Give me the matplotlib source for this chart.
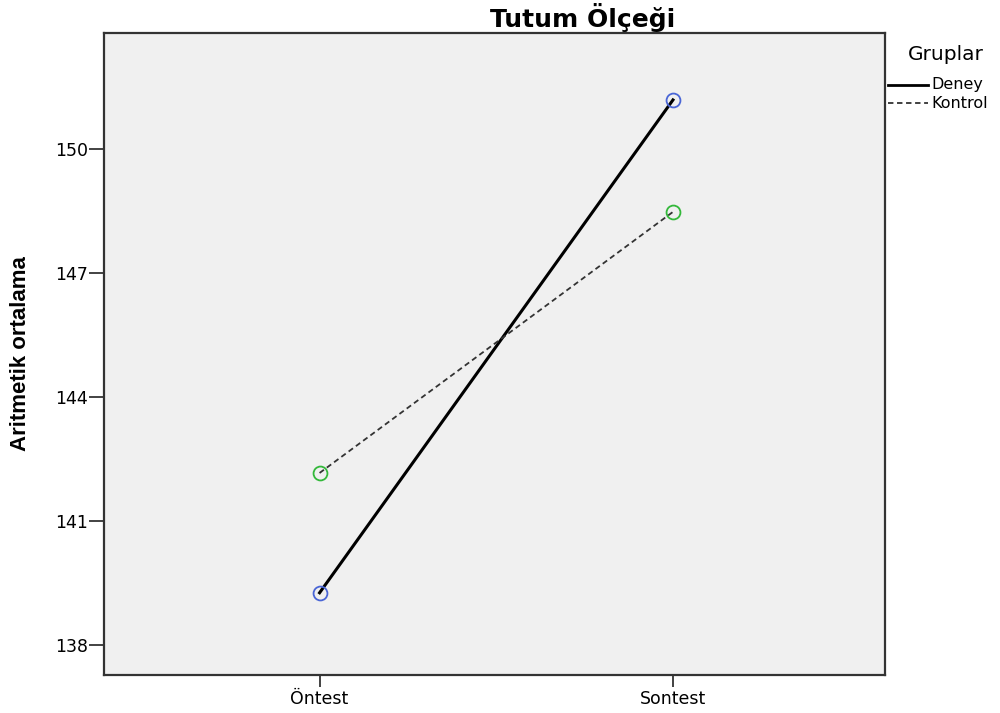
import matplotlib
matplotlib.use("Agg")
import matplotlib.pyplot as plt
from matplotlib.lines import Line2D

plt.rcParams['font.family'] = ['DejaVu Sans']

categories = ["Öntest", "Sontest"]
deney = [139.26, 151.19]
kontrol = [142.16, 148.48]
yticks = [138, 141, 144, 147, 150]
groups = ["Deney", "Kontrol"]

W, H = 1000, 713
fig = plt.figure(figsize=(W / 100, H / 100), dpi=100)
ax = fig.add_axes([104 / W, 1 - 675 / H, (885 - 104) / W, (675 - 33) / H])
ax.set_facecolor('#f0f0f0')

x = list(range(len(categories)))
ax.plot(x, deney, color='black', lw=2.2, ls='-', zorder=2)
ax.plot(x, kontrol, color='#333333', lw=1.3, ls=(0, (3, 2)), zorder=2)
ax.plot(x, deney, ls='none', marker='o', ms=10, mfc='none', mec='#4a66d6', mew=1.3, zorder=3)
ax.plot(x, kontrol, ls='none', marker='o', ms=10, mfc='none', mec='#33b83a', mew=1.3, zorder=3)

ax.set_xlim(-0.61, 1.6)
ax.set_ylim(137.27, 152.81)
ax.set_xticks(x)
ax.set_xticklabels(categories, fontsize=12.5)
ax.set_yticks(yticks)
ax.set_yticklabels([str(v) for v in yticks], fontsize=12.5)
ax.tick_params(axis='y', length=11, width=1.2, color='#222222', pad=0.5)
ax.tick_params(axis='x', length=8.5, width=1.2, color='#222222', pad=2)

for s in ax.spines.values():
    s.set_color('#333333')
    s.set_linewidth(1.6)

ax.set_ylabel("Aritmetik ortalama", fontsize=16, fontweight='bold',
              family=['Liberation Sans Narrow', 'Liberation Sans', 'DejaVu Sans'], labelpad=17)

fig.text(583 / W, 1 - 18 / H, "Tutum Ölçeği", ha='center', va='center',
         fontsize=18, fontweight='bold')

# legend (outside right)
fig.text(946 / W, 1 - 55 / H, "Gruplar", ha='center', va='center', fontsize=14.5)
styles = [dict(color='black', lw=2, ls='-'), dict(color='#333333', lw=1.3, ls=(0, (3, 2)))]
ys = [85, 103]
for g, st, yy in zip(groups, styles, ys):
    fig.add_artist(Line2D([888 / W, 928 / W], [1 - yy / H, 1 - yy / H], transform=fig.transFigure, **st))
    fig.text(931 / W, 1 - yy / H, g, ha='left', va='center', fontsize=11.5)

fig.savefig("out.png", dpi=100)
